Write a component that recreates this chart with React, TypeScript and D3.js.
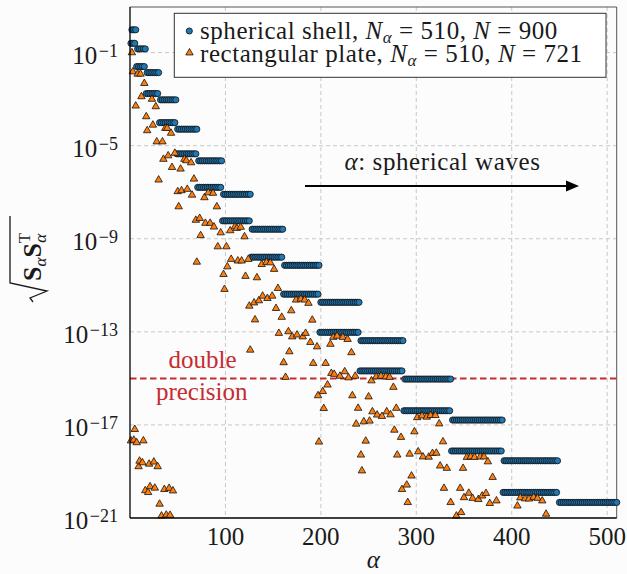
import React from "react";
import * as d3 from "d3";

// ---- data ----
// spherical shell: number of modes per degree n = 1..15 (2(2n+1))
const shellModesPerDegree = [6, 10, 14, 18, 22, 26, 30, 34, 38, 42, 46, 50, 54, 58, 62];
// log10 of sqrt(S S^T) for even alpha (upper row) and odd alpha (lower row) per degree
const shellEvenLog10 = [-0.02, -0.84, -1.86, -3.03, -4.29, -5.65, -7.09, -8.59, -10.14, -11.73, -13.38, -15.03, -16.79, -18.54, -20.33];
const shellOddLog10 = [-0.6, -1.6, -2.76, -4.01, -5.35, -6.79, -8.23, -9.79, -11.38, -13.02, -14.68, -16.39, -18.12, -19.9, -21.7];

// rectangular plate (visible points)
const plateAlpha = [
  1, 2, 3, 4, 5, 6, 7, 8, 9, 10, 11, 12, 13, 14, 15, 16, 17, 18, 19, 20, 21, 23, 24, 25, 26, 27, 28, 29, 30, 31, 33, 34, 35, 36, 37, 38, 39, 40, 41, 42, 43, 44, 45, 47,
  50, 51, 53, 54, 57, 59, 60, 64, 65, 67, 69, 70, 73, 74, 78, 79, 82, 84, 87, 88, 91, 92, 95, 98, 99,
  101, 102, 105, 106, 110, 112, 113, 116, 117, 120, 121, 124, 125, 126, 130, 131, 133, 135, 138, 139, 143, 144, 147, 149,
  151, 153, 155, 156, 159, 161, 163, 166, 167, 169, 170, 174, 175, 179, 181, 183, 184, 187, 189, 191, 192, 196, 197, 198,
  202, 203, 205, 207, 210, 211, 213, 214, 217, 220, 223, 225, 228, 229, 232, 233, 236, 237, 239, 242, 243, 245, 247,
  250, 251, 253, 254, 258, 259, 263, 264, 268, 269, 272, 273, 276, 277, 279, 280, 284, 285, 290, 291, 293, 295, 298,
  301, 302, 306, 307, 311, 313, 315, 317, 320, 321, 324, 325, 328, 329, 332, 336, 342, 346, 347, 349,
  350, 353, 355, 357, 359, 361, 365, 367, 369, 371, 373, 375, 377, 380, 384,
  406, 409, 414, 418, 423, 427, 432, 436,
];
const plateLog10 = [
  -17.68, -1.0, -1.82, -17.65, -17.19, -3.29, -17.76, -1.92, -18.79, -18.55, -1.92, -2.89, -18.62, -17.68, -2.32, -19.82, -3.75, -4.35, -19.9, -18.68, -19.65, -3.0, -4.11, -18.59, -19.71, -3.32, -4.83, -18.79, -6.47, -20.4, -20.91, -4.83, -5.58, -19.77, -4.25, -20.87, -4.25, -5.43, -19.72, -20.88, -4.46, -5.93, -19.83, -5.32,
  -6.97, -7.62, -6.0, -6.93, -5.58, -5.64, -6.87, -5.73, -7.12, -6.43, -8.2, -10.0, -8.12, -8.86, -7.23, -8.33, -7.02, -8.33, -7.04, -8.49, -7.62, -9.34, -8.74, -10.53, -11.17,
  -9.34, -10.2, -8.65, -9.88, -8.48, -8.55, -9.95, -8.5, -9.95, -8.91, -10.61, -9.88, -11.89, -13.78, -11.75, -12.48, -10.67, -11.66, -10.1, -11.46, -10.01, -11.56, -10.03, -11.46,
  -10.31, -11.99, -11.13, -13.06, -12.37, -14.32, -14.95, -12.99, -13.85, -12.09, -13.21, -11.63, -13.13, -11.59, -13.21, -11.63, -13.06, -11.77, -13.45, -12.49, -14.35, -13.64, -15.74, -17.73,
  -15.56, -16.29, -14.35, -15.28, -13.53, -14.78, -13.23, -14.82, -13.18, -14.9, -13.23, -14.71, -13.32, -14.97, -13.89, -15.74, -14.9, -16.96, -16.28, -18.29, -18.97, -16.86, -17.69,
  -15.79, -16.83, -15.1, -16.43, -14.93, -16.57, -14.9, -16.63, -14.93, -16.43, -14.95, -16.56, -15.38, -17.22, -16.28, -18.29, -17.53, -19.77, -19.58, -20.33, -18.25, -19.19, -17.29,
  -16.68, -18.15, -16.61, -18.37, -16.66, -18.38, -16.59, -18.22, -16.59, -18.21, -16.95, -18.76, -17.72, -19.72, -18.86, -20.33, -20.91, -19.72, -20.76, -18.86,
  -20.12, -18.39, -19.93, -18.37, -20.15, -18.39, -20.2, -18.37, -20.05, -18.37, -19.94, -18.58, -20.37, -19.25, -20.26,
  -20.48, -20.13, -20.17, -20.18, -20.11, -20.15, -20.26, -20.83,
];

const xTicks = [100, 200, 300, 400, 500];
const yTickExponents = [-1, -5, -9, -13, -17, -21];
const xDomain = [0, 510];
const yDomain = [1e-21, Math.pow(10, 0.96)];
const doublePrecision = 1e-15;

const SERIF = '"Liberation Serif", "DejaVu Serif", serif';

export default function App() {
  const W = 627;
  const H = 574;
  const L = 130, R = 616.7, T = 7, B = 518;

  const x = d3.scaleLinear().domain(xDomain).range([L, R]);
  const y = d3.scaleLog().domain(yDomain).range([B, T]);

  const shellPts: { a: number; v: number }[] = [];
  let a = 1;
  shellModesPerDegree.forEach((cnt, i) => {
    for (let k = 0; k < cnt; k++) {
      const lv = a % 2 === 0 ? shellEvenLog10[i] : shellOddLog10[i];
      shellPts.push({ a, v: Math.pow(10, lv) });
      a++;
    }
  });
  const shellVisible = shellPts.filter((p) => p.v >= yDomain[0]);
  const platePts = plateAlpha.map((al, i) => ({ a: al, v: Math.pow(10, plateLog10[i]) })).filter((p) => p.v >= yDomain[0]);

  const tri = "M0,-4.3 L3.72,2.15 L-3.72,2.15 Z";
  const circFill = "#1f77b4";
  const triFill = "#ff7f0e";
  const mStroke = "#111";
  const red = "#c62b31";
  const tf = { fontFamily: SERIF };
  const txt = "#1a1a1a";

  return (
    <svg width={W} height={H} style={{ position: "absolute", left: 0, top: 0, background: "#fcfcfc" }}>
      <rect x={0} y={0} width={W} height={H} fill="#fcfcfc" />
      {/* grid */}
      {xTicks.map((t) => (
        <line key={"gx" + t} x1={x(t)} x2={x(t)} y1={T} y2={B} stroke="#c8c8c8" strokeWidth={1} strokeDasharray="4 3" />
      ))}
      {yTickExponents.filter((e) => e > -21).map((e) => (
        <line key={"gy" + e} x1={L} x2={R} y1={y(Math.pow(10, e))} y2={y(Math.pow(10, e))} stroke="#c8c8c8" strokeWidth={1} strokeDasharray="4 3" />
      ))}
      {/* frame */}
      <line x1={L} x2={R} y1={T} y2={T} stroke="#555" strokeWidth={1} />
      <line x1={R} x2={R} y1={T} y2={B} stroke="#555" strokeWidth={1} />

      {/* double precision line */}
      <line x1={L} x2={R} y1={y(doublePrecision)} y2={y(doublePrecision)} stroke={red} strokeWidth={2} strokeDasharray="6.5 3.5" />

      {/* shell */}
      {shellVisible.map((p, i) => (
        <circle key={"s" + i} cx={x(p.a)} cy={y(p.v)} r={3.1} fill={circFill} stroke={mStroke} strokeWidth={0.8} />
      ))}
      {/* plate */}
      {platePts.map((p, i) => (
        <path key={"p" + i} d={tri} transform={`translate(${x(p.a)},${y(p.v)})`} fill={triFill} stroke={mStroke} strokeWidth={0.8} />
      ))}

      {/* axes */}
      <line x1={L} x2={L} y1={T} y2={B} stroke="#000" strokeWidth={1.3} />
      <line x1={L} x2={R} y1={B} y2={B} stroke="#000" strokeWidth={1.3} />

      {/* x tick labels */}
      {xTicks.map((t) => (
        <text key={"tx" + t} x={x(t)} y={545} fontSize={25} textAnchor="middle" fill={txt} style={tf}>
          {t}
        </text>
      ))}
      {/* y tick labels */}
      {yTickExponents.map((e) => (
        <text key={"ty" + e} x={118} y={y(Math.pow(10, e)) + 11.3} fontSize={25} textAnchor="end" fill={txt} style={tf}>
          10
          <tspan fontSize={18} dx={1.5} dy={-7.3}>{"\u2212" + Math.abs(e)}</tspan>
        </text>
      ))}

      {/* axis labels */}
      <text x={(L + R) / 2} y={568} fontSize={25} fontStyle="italic" textAnchor="middle" fill={txt} style={tf}>α</text>
      <g transform="translate(41,302) rotate(-90)">
        <path d="M0,-8 L4,-11 L11,6 L19,-31 L86,-31" fill="none" stroke={txt} strokeWidth={1.3} />
        <text x={21} y={0} fontSize={26} fill={txt} style={tf}>
          <tspan fontWeight="bold">S</tspan>
          <tspan fontSize={17} fontStyle="italic" dy={5}>α</tspan>
          <tspan fontWeight="bold" dy={-5}>S</tspan>
          <tspan fontSize={17} dy={-11}>T</tspan>
          <tspan fontSize={17} fontStyle="italic" dx={-10} dy={16}>α</tspan>
        </text>
      </g>

      {/* annotation */}
      <text x={442.5} y={170} fontSize={25} letterSpacing={0.6} textAnchor="middle" fill={txt} style={tf}>
        <tspan fontStyle="italic">α</tspan>: spherical waves
      </text>
      <line x1={305} x2={568} y1={186} y2={186} stroke="#000" strokeWidth={2} />
      <path d="M579,186 L566,180.5 L566,191.5 Z" fill="#000" />

      <text x={202.5} y={368} fontSize={25} textAnchor="middle" fill={red} style={tf}>double</text>
      <text x={201.7} y={400} fontSize={25} textAnchor="middle" fill={red} style={tf}>precision</text>

      {/* legend */}
      <rect x={174.3} y={13.3} width={431.7} height={64} fill="#fff" stroke="#333" strokeWidth={1} />
      <circle cx={189.3} cy={31} r={3.1} fill={circFill} stroke={mStroke} strokeWidth={0.8} />
      <path d={tri} transform="translate(189.5,52.8)" fill={triFill} stroke={mStroke} strokeWidth={0.8} />
      <text x={200} y={38.5} fontSize={25} letterSpacing={0.55} fill={txt} style={tf}>
        spherical shell, <tspan fontStyle="italic">N</tspan>
        <tspan fontSize={17} fontStyle="italic" dy={4}>α</tspan>
        <tspan dy={-4}> = 510, </tspan>
        <tspan fontStyle="italic">N</tspan> = 900
      </text>
      <text x={200} y={61.7} fontSize={25} letterSpacing={0.55} fill={txt} style={tf}>
        rectangular plate, <tspan fontStyle="italic">N</tspan>
        <tspan fontSize={17} fontStyle="italic" dy={4}>α</tspan>
        <tspan dy={-4}> = 510, </tspan>
        <tspan fontStyle="italic">N</tspan> = 721
      </text>
    </svg>
  );
}
